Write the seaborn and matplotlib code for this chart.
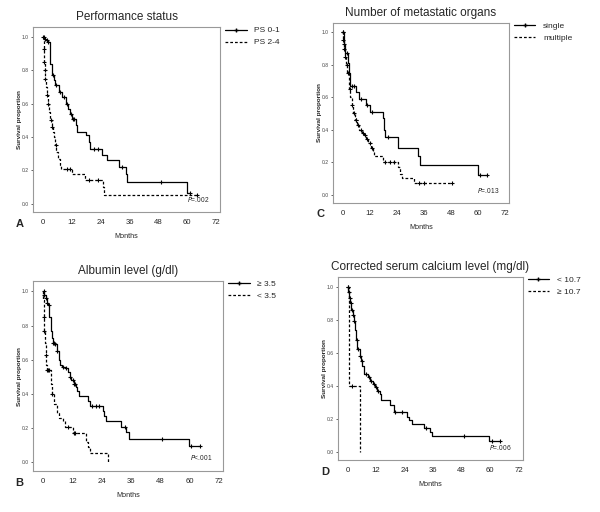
import numpy as np
import matplotlib
matplotlib.use("Agg")
import matplotlib.pyplot as plt
from matplotlib.lines import Line2D
import seaborn as sns

# ---- data (months, survival proportion) ----
# A: Performance status
ps01_t = [0, 0.5, 1, 2, 2.7, 3, 3.5, 4.5, 5, 6.5, 8, 9.5, 10.5, 11, 12, 13.5, 14, 18, 19, 19.5, 24.5, 26.5, 31.5, 34.5, 35, 60, 61]
ps01_s = [1.0, 0.99, 0.98, 0.97, 0.91, 0.84, 0.77, 0.74, 0.71, 0.67, 0.64, 0.60, 0.57, 0.54, 0.51, 0.47, 0.43, 0.41, 0.37, 0.33, 0.29, 0.26, 0.22, 0.18, 0.13, 0.065, 0.065]
ps01_cens = [0.3, 0.8, 1.5, 2.2, 4, 5.5, 7, 8.5, 10, 11.5, 12.5, 13, 21, 23, 33, 49, 61]
ps24_t = [0, 0.2, 0.4, 0.6, 0.8, 1.2, 1.5, 2, 2.5, 3, 3.5, 4, 4.5, 5, 5.5, 6, 7, 7.5, 12, 17.5, 25, 25.5, 64]
ps24_s = [1.0, 0.93, 0.85, 0.80, 0.75, 0.70, 0.65, 0.60, 0.55, 0.50, 0.46, 0.43, 0.40, 0.35, 0.31, 0.27, 0.23, 0.21, 0.18, 0.14, 0.10, 0.05, 0.05]
ps24_cens = [0.1, 0.3, 0.5, 0.7, 1, 1.7, 2.2, 3.2, 3.8, 5.2, 10, 11, 19, 23, 64]

# C: Number of metastatic organs
single_t = [0, 0.5, 1, 2.5, 3, 3.5, 6, 7.5, 10.5, 12, 18, 18.5, 19, 24.5, 33.5, 34.5, 60, 64]
single_s = [1.0, 0.93, 0.87, 0.81, 0.75, 0.67, 0.63, 0.59, 0.55, 0.51, 0.47, 0.40, 0.355, 0.29, 0.24, 0.18, 0.12, 0.12]
single_cens = [0.3, 0.8, 2, 4, 5, 8, 11, 13, 20, 61, 64]
multi_t = [0, 0.2, 0.5, 1, 1.5, 2.2, 2.7, 3, 3.5, 4, 4.7, 5.5, 6.5, 7.5, 8.5, 9.5, 10.5, 11.5, 12.5, 13.5, 14, 18, 24.5, 25.5, 26.5, 31.5, 48.5]
multi_s = [1.0, 0.95, 0.90, 0.85, 0.80, 0.75, 0.70, 0.65, 0.60, 0.55, 0.50, 0.46, 0.43, 0.40, 0.38, 0.37, 0.34, 0.32, 0.29, 0.27, 0.24, 0.20, 0.17, 0.13, 0.10, 0.07, 0.07]
multi_cens = [0.1, 0.3, 0.6, 1.2, 1.8, 2.4, 3.2, 4.2, 5, 5.8, 6.2, 7, 8, 9, 10, 11, 12, 13, 19, 21, 23, 34, 36, 48.5]

# B: Albumin level
alb_hi_t = [0, 0.5, 1, 1.5, 2, 2.5, 3, 3.5, 4, 5, 5.5, 6.5, 7, 7.5, 9, 10, 11, 11.5, 12.5, 13.5, 14, 14.5, 18.5, 19, 24.5, 25, 25.5, 32, 34, 35, 59.5, 64]
alb_hi_s = [1.0, 0.98, 0.96, 0.93, 0.92, 0.85, 0.77, 0.73, 0.70, 0.69, 0.65, 0.60, 0.57, 0.56, 0.55, 0.53, 0.50, 0.48, 0.46, 0.44, 0.42, 0.39, 0.36, 0.33, 0.30, 0.27, 0.24, 0.21, 0.18, 0.14, 0.095, 0.095]
alb_hi_cens = [0.2, 0.5, 1, 1.5, 2.2, 4, 4.5, 5, 5.5, 8, 9.5, 11, 12, 12.5, 13, 20, 21.5, 23, 33.5, 48.5, 60.5, 64]
alb_lo_t = [0, 0.1, 0.3, 0.5, 0.8, 1, 1.2, 1.5, 3, 3.5, 4.5, 5.5, 6.5, 8, 9, 12, 17.5, 18.5, 19, 26.5, 26.5]
alb_lo_s = [1.0, 0.95, 0.85, 0.77, 0.70, 0.63, 0.57, 0.54, 0.46, 0.40, 0.34, 0.29, 0.26, 0.24, 0.21, 0.17, 0.12, 0.09, 0.055, 0.0, 0.0]
alb_lo_cens = [0.3, 0.5, 1, 1.5, 2, 2.3, 3.5, 10, 12.5, 13]

# D: Corrected serum calcium level
ca_lo_t = [0, 0.3, 0.6, 1, 1.5, 2, 2.5, 3, 3.5, 4, 5, 5.5, 6, 7, 8.5, 9.5, 10.5, 11.5, 12.5, 13.5, 14, 18, 19.5, 25, 26, 27, 32, 34.5, 35.5, 59.5, 64]
ca_lo_s = [1.0, 0.97, 0.93, 0.90, 0.86, 0.83, 0.79, 0.74, 0.68, 0.62, 0.58, 0.55, 0.52, 0.47, 0.45, 0.43, 0.41, 0.39, 0.37, 0.35, 0.31, 0.28, 0.24, 0.21, 0.19, 0.165, 0.14, 0.12, 0.095, 0.065, 0.065]
ca_lo_cens = [0.1, 0.2, 0.4, 0.8, 1.2, 1.8, 2.2, 2.8, 3.8, 4.5, 5.2, 5.8, 7.5, 9, 10, 11, 11.8, 12.8, 20, 23, 33, 49, 61, 64]
ca_hi_t = [0, 0.5, 5.2, 5.2]
ca_hi_s = [1.0, 0.40, 0.0, 0.0]
ca_hi_cens = [1.8]

panels = [
    dict(pos=[0.055, 0.586, 0.312, 0.361], title="Performance status", letter="A", p="=.002",
         groups=[("PS 0-1", ps01_t, ps01_s, ps01_cens), ("PS 2-4", ps24_t, ps24_s, ps24_cens)]),
    dict(pos=[0.555, 0.604, 0.293, 0.352], title="Number of metastatic organs", letter="C", p="=.013",
         groups=[("single", single_t, single_s, single_cens), ("multiple", multi_t, multi_s, multi_cens)]),
    dict(pos=[0.055, 0.080, 0.317, 0.371], title="Albumin level (g/dl)", letter="B", p="<.001",
         groups=[("\u2265 3.5", alb_hi_t, alb_hi_s, alb_hi_cens), ("< 3.5", alb_lo_t, alb_lo_s, alb_lo_cens)]),
    dict(pos=[0.563, 0.102, 0.308, 0.357], title="Corrected serum calcium level (mg/dl)", letter="D", p="=.006",
         groups=[("< 10.7", ca_lo_t, ca_lo_s, ca_lo_cens), ("\u2265 10.7", ca_hi_t, ca_hi_s, ca_hi_cens)]),
]

sns.set_style("white")
plt.rcParams["font.family"] = ["Liberation Sans", "DejaVu Sans"]

fig = plt.figure(figsize=(6, 5.12), dpi=100)
styles = ["-", (0, (2.2, 1.6))]

for pn in panels:
    ax = fig.add_axes(pn["pos"])
    handles = []
    for (label, t, s, cens), ls in zip(pn["groups"], styles):
        sns.lineplot(x=t, y=s, ax=ax, color="black", linewidth=0.9, linestyle=ls,
                     drawstyle="steps-post", estimator=None, sort=False)
        # censored observations sit on the step curve
        t_arr = np.array(t)
        idx = np.searchsorted(t_arr, cens, side="right") - 1
        cy = np.array(s)[np.clip(idx, 0, len(s) - 1)]
        sns.scatterplot(x=cens, y=cy, ax=ax, marker="+", color="black", s=9, linewidth=0.8)
        handles.append(Line2D([], [], color="black", linestyle=ls, linewidth=0.9,
                              marker="+" if ls == "-" else None, markersize=3, label=label))
    ax.set_xlim(-4.2, 73.7)
    ax.set_ylim(-0.05, 1.06)
    ax.set_xticks(np.arange(0, 73, 12))
    ax.set_yticks(np.arange(0, 1.01, 0.2))
    ax.set_yticklabels([f"{v:.1f}" for v in np.arange(0, 1.01, 0.2)], fontsize=3.6, color="#444444")
    ax.tick_params(axis="x", labelsize=5.6, length=0, pad=5)
    ax.tick_params(axis="y", length=1.5, width=0.5, pad=1.5, left=True)
    for sp in ax.spines.values():
        sp.set_color("#999999")
        sp.set_linewidth(0.8)
    ax.set_xlabel("Months", fontsize=5.2, labelpad=5)
    ax.set_ylabel("Survival proportion", fontsize=4.6, fontweight="bold", labelpad=0)
    ax.set_title(pn["title"], fontsize=8.5, pad=5)
    ax.text(64.5, 0.0, r"$\it{P}$" + pn["p"], fontsize=4.8, ha="center", va="bottom")
    ax.text(-0.07, -0.065, pn["letter"], transform=ax.transAxes, fontsize=8, fontweight="bold",
            ha="center", va="center")
    ax.legend(handles=handles, loc="upper left", bbox_to_anchor=(1.0, 1.03), frameon=False,
              fontsize=6, handlelength=2.6, handletextpad=0.9, labelspacing=0.5, borderaxespad=0.2)

fig.savefig("out.png", dpi=100)
